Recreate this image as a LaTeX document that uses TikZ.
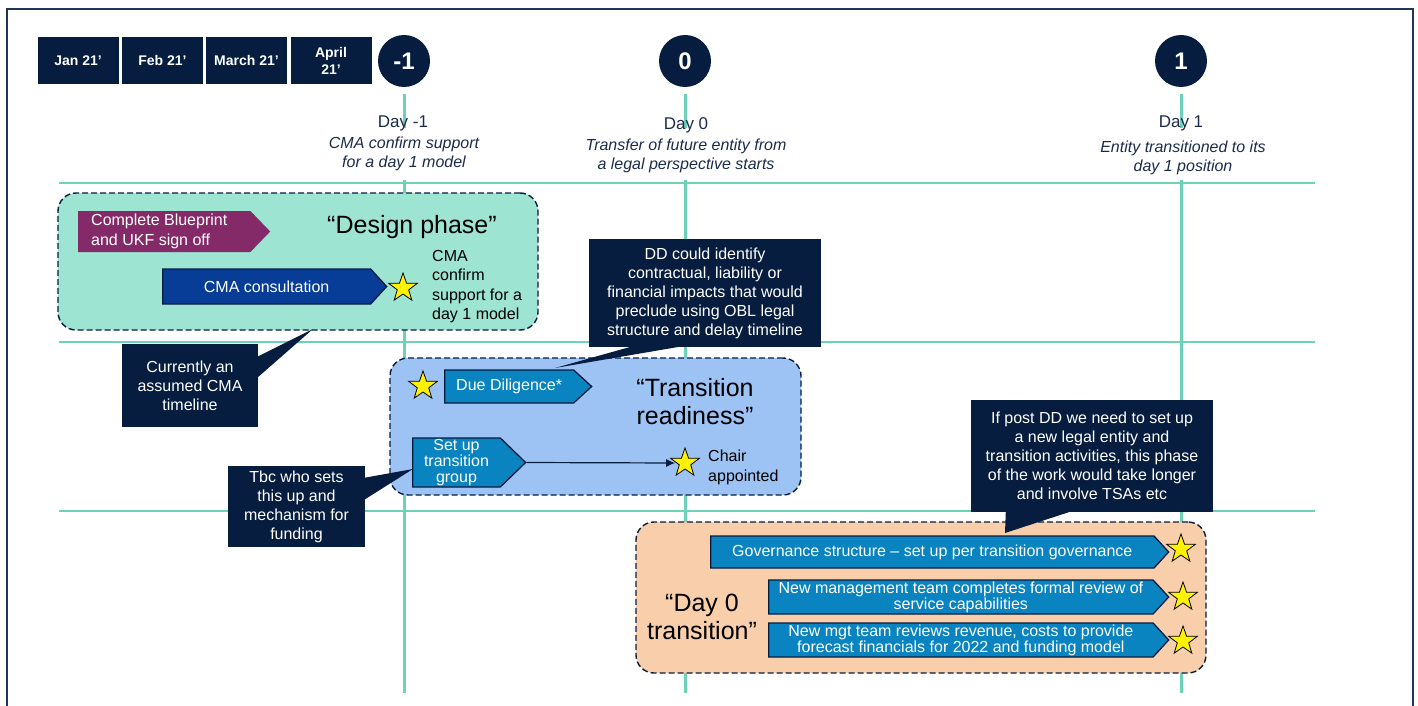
\documentclass[tikz,border=0pt]{standalone}
\usepackage{fontspec}
\setmainfont{Liberation Sans}
\usetikzlibrary{shapes.geometric,shapes.symbols,arrows.meta,calc}

\definecolor{navy}{HTML}{061D3F}
\definecolor{framec}{HTML}{1F355A}
\definecolor{mintline}{HTML}{6DD3B6}
\definecolor{mintfill}{HTML}{9DE4D2}
\definecolor{skyfill}{HTML}{9DC3F5}
\definecolor{peachfill}{HTML}{F8CEAB}
\definecolor{plum}{HTML}{852A69}
\definecolor{royal}{HTML}{073D97}
\definecolor{ocean}{HTML}{0A84C0}
\definecolor{daytext}{HTML}{1C2B4B}

\newcommand{\fsz}[2]{\fontsize{#1}{#2}\selectfont}

\tikzset{
  month/.style={fill=navy, text=white, font=\fsz{14}{17}\bfseries, minimum width=81, minimum height=47, inner sep=0, align=center},
  daycirc/.style={circle, fill=navy, minimum size=52, inner sep=0, text=white, font=\fsz{24}{27}\bfseries},
  daylbl/.style={text=daytext, font=\fsz{17}{20}, inner sep=0},
  daynote/.style={text=daytext, font=\fsz{16}{19}\itshape, align=center, inner sep=0},
  vline/.style={mintline, line width=3},
  hline/.style={mintline, line width=1.5},
  phase/.style={draw=navy, dashed, dash pattern=on 6pt off 3pt, line width=1.4, rounded corners=18, inner sep=0},
  callout/.style={fill=navy, text=white, align=center, font=\fsz{16}{19}, inner sep=0},
  arrowbox/.style={signal, signal to=east, signal pointer angle=95, anchor=west, draw=navy, line width=1.3, fill=ocean, text=white, inner sep=0, align=center, font=\fsz{16}{16}},
  milestone/.style={star, star points=5, star point ratio=2.5, fill=yellow, draw=black, line width=0.8, minimum size=30, inner sep=0},
  bigq/.style={font=\fsz{25}{28}, align=center, inner sep=0},
  plain/.style={font=\fsz{16}{19.3}, align=left, inner sep=0},
  link/.style={navy, line width=1.2, -{Latex[length=9,width=8]}}
}

\begin{document}
\begin{tikzpicture}[x=1pt, y=-1pt]
\useasboundingbox (0,0) rectangle (1418,706);

% page frame
\draw[framec, line width=2] (7,706) -- (7,9) -- (1413,9) -- (1413,706);

% month header
\node[month] (jan) at (78,60.5) {Jan 21’};
\node[month] (feb) at (162.5,60.5) {Feb 21’};
\node[month] (mar) at (246.5,60.5) {March 21’};
\node[month] (apr) at (331,60.5) {April\\21’};

% milestone day markers
\node[daycirc] (dm1) at (404,61) {-1};
\node[daycirc] (d0) at (685,61) {0};
\node[daycirc] (d1) at (1181,61) {1};

% timeline grid
\draw[hline] (59,183) -- (1315,183);
\draw[hline] (59,342) -- (1315,342);
\draw[hline] (59,511) -- (1315,511);
\foreach \xx in {404,685,1181} {
  \draw[vline] (\xx,94) -- (\xx,128);
  \draw[vline] (\xx,180) -- (\xx,693);
}

% day captions
\node[daylbl] (dm1lbl) at (403,123) {Day -1};
\node[daynote] (dm1note) at (404,154) {CMA confirm support\\for a day 1 model};
\node[daylbl] (d0lbl) at (686,125) {Day 0};
\node[daynote] (d0note) at (686,155.5) {Transfer of future entity from\\a legal perspective starts};
\node[daylbl] (d1lbl) at (1181,123) {Day 1};
\node[daynote] (d1note) at (1183,157.5) {Entity transitioned to its\\day 1 position};

% ---- design phase ----
\node[phase, fill=mintfill, minimum width=480, minimum height=137] (design) at (298,261.5) {};
\node[signal, signal to=east, signal pointer angle=92, anchor=west, fill=plum, minimum width=192, minimum height=41, inner sep=0] (bp) at (78,231.5) {};
\node[plain, text=white, anchor=west] (bptext) at (91,231.5) {Complete Blueprint\\and UKF sign off};
\node[bigq] (designlbl) at (412,227) {“Design phase”};
\node[arrowbox, fill=royal, minimum width=224, minimum height=35] (cma) at (162,286.5) {CMA consultation};
\node[milestone] (s1) at (403,288) {};
\node[plain, anchor=west] (cmatext) at (432,286.5) {CMA\\confirm\\support for a\\day 1 model};

% ---- transition readiness ----
\node[phase, fill=skyfill, minimum width=411, minimum height=137] (trans) at (595.5,426.5) {};
\node[milestone] (s2) at (423,386) {};
\node[arrowbox, signal pointer angle=85, minimum width=147, minimum height=33] (dd) at (444,386.5) {Due Diligence*};
\node[bigq] (translbl) at (695,402) {“Transition\\readiness”};
\node[arrowbox, signal pointer angle=88, minimum width=113, minimum height=49] (setup) at (412,462.5) {Set up\\transition\\group};
\node[milestone] (s3) at (685,463) {};
\node[plain, anchor=west] (chair) at (708,467.5) {Chair\\appointed};
\draw[link, shorten >=1] (setup.east) -- (s3.west);

% ---- day 0 transition ----
\node[phase, fill=peachfill, minimum width=570, minimum height=151] (day0) at (921,597.5) {};
\node[bigq] (day0lbl) at (702,617) {“Day 0\\transition”};
\node[arrowbox, minimum width=458, minimum height=32] (gov) at (710,552) {Governance structure – set up per transition governance};
\node[milestone] (s4) at (1181,549) {};
\node[arrowbox, minimum width=400, minimum height=34] (mgmt) at (768,597) {New management team completes formal review of\\service capabilities};
\node[milestone] (s5) at (1183,597) {};
\node[arrowbox, minimum width=400, minimum height=34] (fin) at (768,640) {New mgt team reviews revenue, costs to provide\\forecast financials for 2022 and funding model};
\node[milestone] (s6) at (1183,641) {};

% ---- callouts ----
\node[callout, minimum width=136, minimum height=83] (cur) at (190,385.5) {Currently an\\assumed CMA\\timeline};
\coordinate (curtip) at (313,329);
\fill[navy] ($(cur.north east)+(-1,13)$) -- (curtip) -- ($(cur.north east)+(-1,34)$) -- cycle;

\node[callout, minimum width=232, minimum height=108] (ddnote) at (705,293) {DD could identify\\contractual, liability or\\financial impacts that would\\preclude using OBL legal\\structure and delay timeline};
\coordinate (ddtip) at (555,368);
\fill[navy] ($(ddnote.south west)+(44,-1)$) -- (ddtip) -- ($(ddnote.south west)+(94,-1)$) -- cycle;

\node[callout, minimum width=137, minimum height=81] (tbc) at (296.5,506.5) {Tbc who sets\\this up and\\mechanism for\\funding};
\coordinate (tbctip) at (413,469);
\fill[navy] ($(tbc.north east)+(-1,12)$) -- (tbctip) -- ($(tbc.north east)+(-1,34)$) -- cycle;

\node[callout, minimum width=242, minimum height=112] (post) at (1092,456) {If post DD we need to set up\\a new legal entity and\\transition activities, this phase\\of the work would take longer\\and involve TSAs etc};
\coordinate (posttip) at (1005,533);
\fill[navy] ($(post.south west)+(35,-1)$) -- (posttip) -- ($(post.south west)+(101,-1)$) -- cycle;

\end{tikzpicture}
\end{document}
